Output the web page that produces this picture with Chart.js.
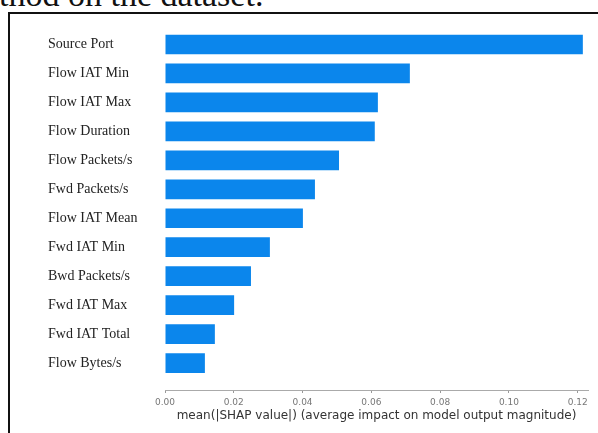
<!DOCTYPE html>
<html>
<head>
<meta charset="utf-8">
<script src="https://cdn.jsdelivr.net/npm/chart.js@4/dist/chart.umd.min.js"></script>
<style>
  html, body { margin: 0; padding: 0; background: #fff; overflow: hidden; }
  #wrap { position: relative; width: 598px; height: 433px; }
  #c { position: absolute; left: 0; top: 0; }
  #frame { position: absolute; left: 8px; top: 12px; width: 600px; height: 430px;
           border-top: 2px solid #111; border-left: 2px solid #111; box-sizing: border-box; }
  #caption { position: absolute; left: -1px; top: -22px; font-family: "Liberation Serif", serif;
             font-size: 34px; line-height: 34px; color: #111; white-space: nowrap; }
</style>
</head>
<body>
<div id="wrap">
  <div id="caption">thod on the dataset.</div>
  <div id="frame"></div>
  <canvas id="c" width="598" height="433"></canvas>
</div>
<script>
const features = ["Source Port", "Flow IAT Min", "Flow IAT Max", "Flow Duration", "Flow Packets/s",
  "Fwd Packets/s", "Flow IAT Mean", "Fwd IAT Min", "Bwd Packets/s", "Fwd IAT Max",
  "Fwd IAT Total", "Flow Bytes/s"];
const meanShap = [0.1215, 0.0712, 0.0619, 0.0610, 0.0506, 0.0436, 0.0401, 0.0305, 0.0250, 0.0201, 0.0145, 0.0116];
const xTicks = [0.00, 0.02, 0.04, 0.06, 0.08, 0.10, 0.12];
const xTitle = "mean(|SHAP value|) (average impact on model output magnitude)";

new Chart(document.getElementById('c'), {
  type: 'bar',
  data: {
    datasets: [{
      data: meanShap.map((v, i) => ({ x: v, y: i })),
      backgroundColor: '#0b86ec',
      borderWidth: 0,
      categoryPercentage: 1,
      barPercentage: 0.68
    }]
  },
  options: {
    responsive: false,
    animation: false,
    indexAxis: 'y',
    layout: { padding: { left: 48, top: 30, right: 10, bottom: 0 } },
    plugins: { legend: { display: false }, tooltip: { enabled: false } },
    scales: {
      y: {
        type: 'linear',
        bounds: 'data',
        offset: false,
        reverse: true,
        min: -0.5,
        max: 11.93,
        afterFit: s => { s.width = 117; },
        afterBuildTicks: s => { s.ticks = features.map((_, i) => ({ value: i })); },
        grid: { display: false, offset: false },
        border: { display: false },
        ticks: {
          autoSkip: false,
          crossAlign: 'far',
          color: '#222',
          font: { family: '"Liberation Serif", serif', size: 14 },
          callback: v => features[v]
        }
      },
      x: {
        type: 'linear',
        bounds: 'data',
        offset: false,
        min: 0,
        max: 0.123,
        afterFit: s => { s.height = 43; },
        afterBuildTicks: s => { s.ticks = xTicks.map(v => ({ value: v })); },
        grid: { drawOnChartArea: false, drawTicks: true, tickLength: 3, color: '#999' },
        border: { display: true, color: '#aaa', width: 1 },
        ticks: {
          padding: 4,
          color: '#777',
          font: { family: '"DejaVu Sans", sans-serif', size: 9 },
          callback: v => v.toFixed(2)
        },
        title: {
          display: true,
          text: xTitle,
          color: '#333',
          font: { family: '"DejaVu Sans", sans-serif', size: 12 },
          padding: { top: 0, bottom: 10 }
        }
      }
    }
  }
});
</script>
</body>
</html>
